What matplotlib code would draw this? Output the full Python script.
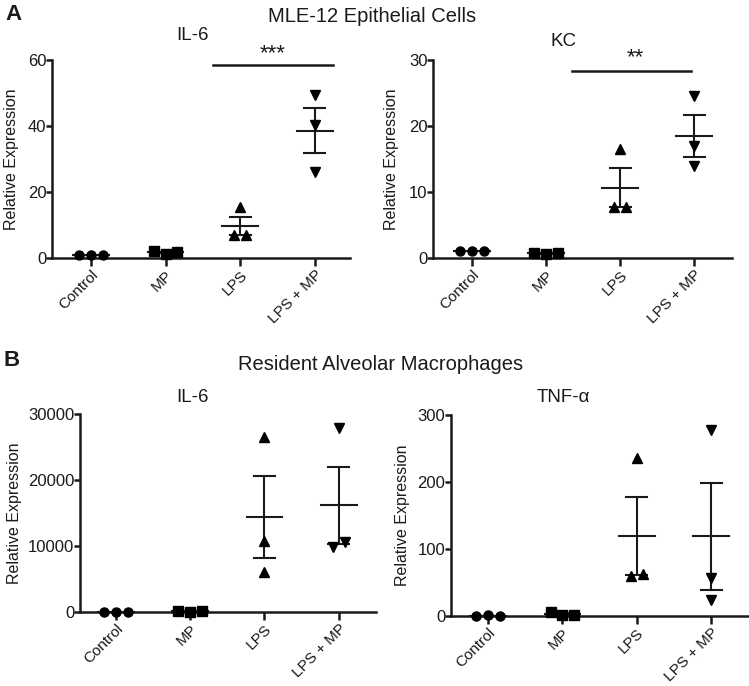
import numpy as np
import matplotlib
matplotlib.use("Agg")
import matplotlib.pyplot as plt

plt.rcParams['font.family'] = ['Liberation Sans', 'DejaVu Sans']

W, H = 749, 686

categories = ['Control', 'MP', 'LPS', 'LPS + MP']
markers = ['o', 's', '^', 'v']

# Panel A: MLE-12 epithelial cells
a_il6 = [[1.0, 1.0, 1.0], [2.0, 1.3, 1.9], [6.9, 6.9, 15.4], [49.4, 40.3, 26.0]]
a_kc = [[1.0, 1.0, 1.0], [0.8, 0.6, 0.8], [7.7, 7.7, 16.5], [24.6, 17.0, 13.9]]

# Panel B: resident alveolar macrophages
b_il6 = [[10, 10, 10], [100, 40, 90], [26470, 10740, 6050], [27900, 9880, 10640]]
b_tnf = [[0.5, 0.8, 0.5], [6.0, 1.0, 2.0], [236, 60, 62], [277, 56, 24]]


def px_axes(fig, left, right, top, bottom):
    return fig.add_axes([left / W, 1 - bottom / H, (right - left) / W, (bottom - top) / H])


def offsets(vals, ymax, thr=0.05, step=0.16):
    # spread points that sit on top of each other
    vals = np.asarray(vals, float)
    order = np.argsort(vals, kind='stable')
    clusters = [[order[0]]]
    for i in order[1:]:
        if (vals[i] - vals[clusters[-1][-1]]) / ymax < thr:
            clusters[-1].append(i)
        else:
            clusters.append([i])
    off = np.zeros(len(vals))
    for c in clusters:
        c = sorted(c)
        n = len(c)
        for k, i in enumerate(c):
            off[i] = (k - (n - 1) / 2) * step
    return off


def panel(ax, data, ymax, yticks, xlim, ylab_x):
    for i, vals in enumerate(data):
        off = offsets(vals, ymax)
        ax.plot(i + off, vals, linestyle='none', marker=markers[i], color='black',
                markersize=6.5, clip_on=False, zorder=4)
        m = np.mean(vals)
        sem = np.std(vals, ddof=1) / np.sqrt(len(vals))
        ax.plot([i - 0.24, i + 0.24], [m, m], color='#1a1a1a', lw=1.5, zorder=3)
        if sem > 0:
            ax.plot([i, i], [m - sem, m + sem], color='#1a1a1a', lw=1.5, zorder=3)
            for y in (m - sem, m + sem):
                ax.plot([i - 0.14, i + 0.14], [y, y], color='#1a1a1a', lw=1.5, zorder=3)
    ax.set_xlim(*xlim)
    ax.set_ylim(0, ymax)
    ax.set_yticks(yticks)
    ax.set_xticks(range(len(categories)))
    ax.set_xticklabels(categories, rotation=45, ha='right', rotation_mode='anchor', fontsize=11)
    ax.tick_params(axis='y', direction='out', length=4, width=1.8, labelsize=12, pad=0, colors='#1a1a1a')
    ax.tick_params(axis='x', direction='out', length=6, width=1.8, pad=1, colors='#1a1a1a')
    for s in ('top', 'right'):
        ax.spines[s].set_visible(False)
    for s in ('left', 'bottom'):
        ax.spines[s].set_linewidth(1.8)
        ax.spines[s].set_color('#1a1a1a')
    ax.set_ylabel('Relative Expression', fontsize=11.5, color='#1a1a1a')
    ax.yaxis.set_label_coords(ylab_x, 0.5)
    ax.patch.set_alpha(0)


fig = plt.figure(figsize=(W / 100, H / 100), dpi=100)

# label x given as right edge of rotated ylabel, in px
ax1 = px_axes(fig, 52, 350, 60, 258)
panel(ax1, a_il6, 60, [0, 20, 40, 60], (-0.52, 3.47), (19 - 52) / 298)
ax1.plot([1.64, 3.24], [58.5, 58.5], color='#1a1a1a', lw=1.8, clip_on=False)
ax1.text(2.44, 62.0, '***', ha='center', va='center', fontsize=16, color='#1a1a1a')

ax2 = px_axes(fig, 433, 732, 60, 258)
panel(ax2, a_kc, 30, [0, 10, 20, 30], (-0.53, 3.51), (399 - 433) / 299)
ax2.plot([1.35, 2.96], [28.3, 28.3], color='#1a1a1a', lw=1.8, clip_on=False)
ax2.text(2.2, 30.3, '**', ha='center', va='center', fontsize=16, color='#1a1a1a')

ax3 = px_axes(fig, 80, 376, 414, 612)
panel(ax3, b_il6, 30000, [0, 10000, 20000, 30000], (-0.48, 3.5), (22 - 80) / 296)

ax4 = px_axes(fig, 451, 749, 415, 616)
panel(ax4, b_tnf, 300, [0, 100, 200, 300], (-0.5, 3.51), (410 - 451) / 298)


# titles placed in pixel positions
def ftext(x, y, s, **kw):
    fig.text(x / W, 1 - y / H, s, ha='center', va='center', color='#1a1a1a', **kw)


ftext(372, 16, 'MLE-12 Epithelial Cells', fontsize=14.5)
ftext(192, 36, 'IL-6', fontsize=13.5)
ftext(563, 42, 'KC', fontsize=13.5)
ftext(381, 365, 'Resident Alveolar Macrophages', fontsize=14.5)
ftext(192, 398, 'IL-6', fontsize=13.5)
ftext(563, 398, 'TNF-α', fontsize=13.5)
ftext(13, 15, 'A', fontsize=16, fontweight='bold')
ftext(12, 361, 'B', fontsize=16, fontweight='bold')

fig.savefig('out.png', dpi=100)
